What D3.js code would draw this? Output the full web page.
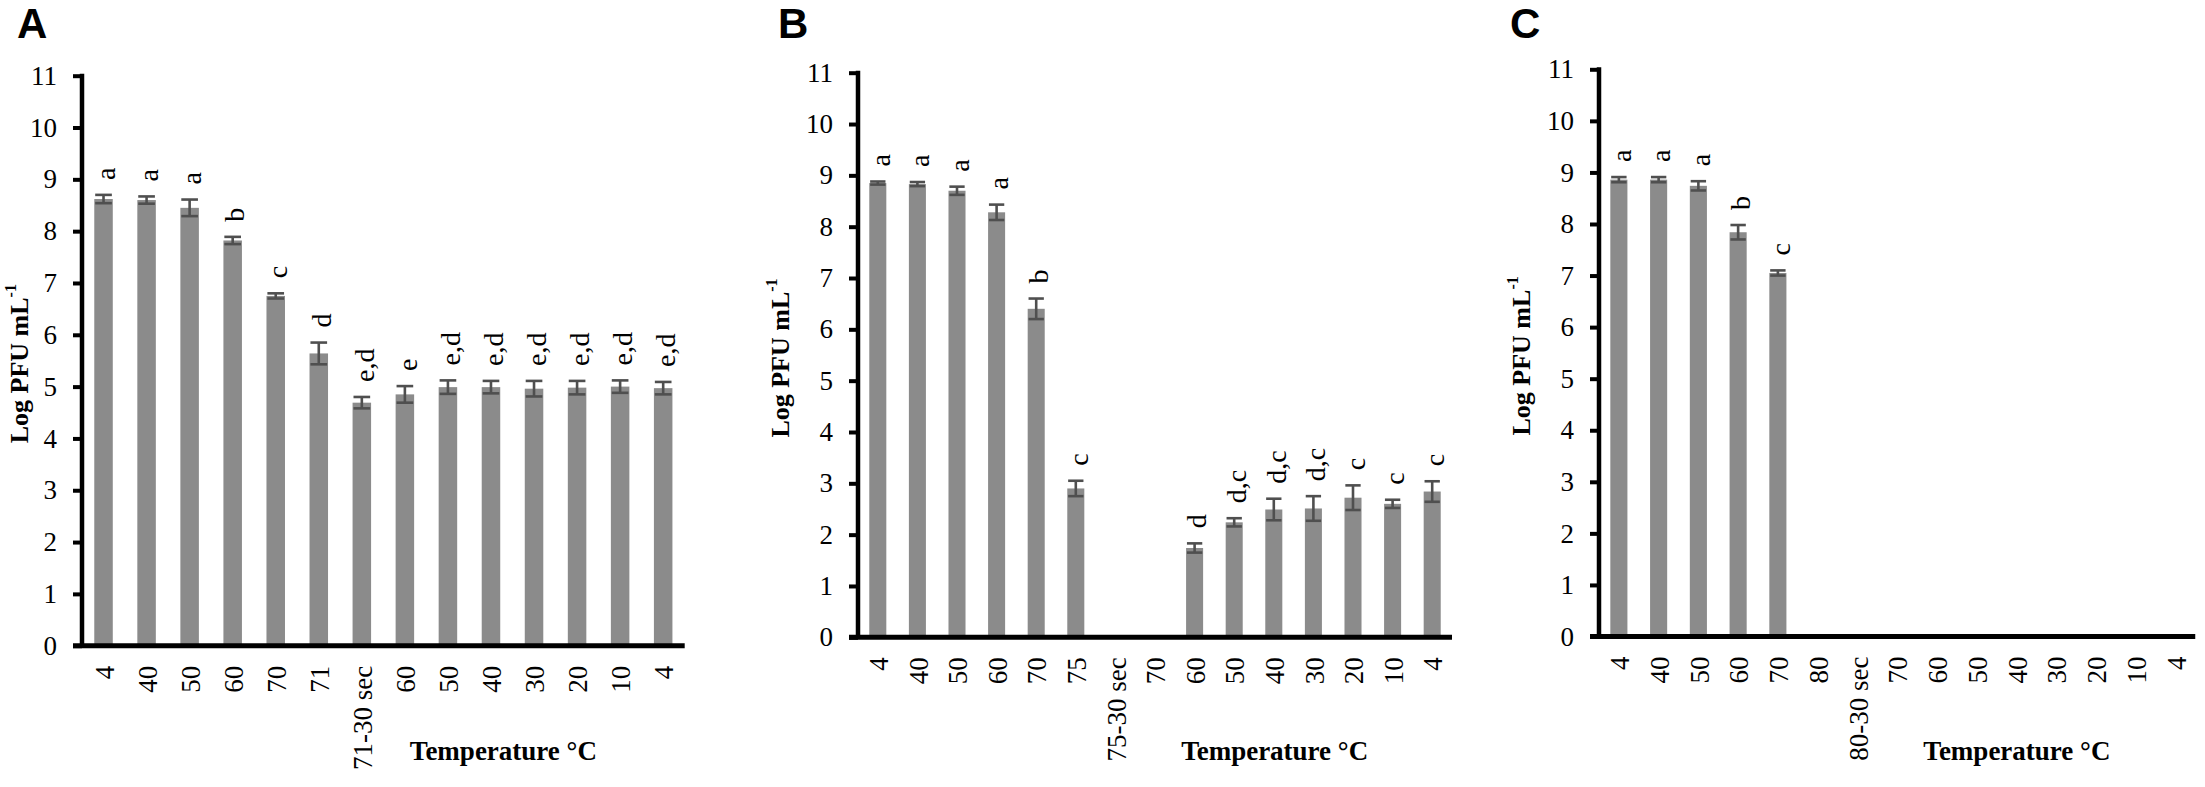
<!DOCTYPE html>
<html>
<head>
<meta charset="utf-8">
<script src="https://cdn.jsdelivr.net/npm/d3@7/dist/d3.min.js"></script>
<style>
  html, body { margin: 0; padding: 0; background: #fff; }
  svg { display: block; }
</style>
</head>
<body>
<svg id="chart" width="2205" height="787"></svg>
<script>
// ---------------- DATA ----------------
const yTicks = [0,1,2,3,4,5,6,7,8,9,10,11];

const catsA = ["4","40","50","60","70","71","71-30 sec","60","50","40","30","20","10","4"];
const valuesA = [8.62,8.60,8.45,7.82,6.75,5.64,4.69,4.85,4.99,4.99,4.96,4.98,5.00,4.97];
const errA    = [0.08,0.07,0.16,0.07,0.05,0.21,0.11,0.16,0.13,0.12,0.15,0.13,0.12,0.12];
const lettersA = ["a","a","a","b","c","d","e,d","e","e,d","e,d","e,d","e,d","e,d","e,d"];

const catsB = ["4","40","50","60","70","75","75-30 sec","70","60","50","40","30","20","10","4"];
const valuesB = [8.85,8.83,8.70,8.28,6.40,2.90,null,null,1.74,2.24,2.49,2.51,2.72,2.60,2.84];
const errB    = [0.03,0.04,0.08,0.15,0.20,0.15,null,null,0.09,0.08,0.21,0.24,0.24,0.08,0.20];
const lettersB = ["a","a","a","a","b","c","","","d","d,c","d,c","d,c","c","c","c"];

const catsC = ["4","40","50","60","70","80","80-30 sec","70","60","50","40","30","20","10","4"];
const valuesC = [8.86,8.86,8.74,7.84,7.05,null,null,null,null,null,null,null,null,null,null];
const errC    = [0.05,0.05,0.09,0.14,0.05,null,null,null,null,null,null,null,null,null,null];
const lettersC = ["a","a","a","b","c","","","","","","","","","",""];

const panelLabels = ["A","B","C"];
const yTitle = "Log PFU mL";
const xTitle = "Temperature \u00B0C";

// ---------------- LAYOUT ----------------
const panels = [
  {label: panelLabels[0], cats: catsA, vals: valuesA, errs: errA, letters: lettersA,
   axisX: 82, y0: 645.7, yTop: 75.7, step: 43.05, labelX: 17, yTitleX: 28},
  {label: panelLabels[1], cats: catsB, vals: valuesB, errs: errB, letters: lettersB,
   axisX: 858, y0: 637.3, yTop: 72.7, step: 39.6, labelX: 778, yTitleX: 789},
  {label: panelLabels[2], cats: catsC, vals: valuesC, errs: errC, letters: lettersC,
   axisX: 1599, y0: 636.5, yTop: 69.3, step: 39.75, labelX: 1510, yTitleX: 1530}
];

const serif = "'Liberation Serif', 'Times New Roman', serif";
const sans = "'Liberation Sans', Arial, sans-serif";
const barColor = "#8b8b8b";
const errColor = "#4f4f4f";

const svg = d3.select("#chart");

panels.forEach(p => {
  const g = svg.append("g");
  const n = p.cats.length;
  const idx = d3.range(n);
  const x = d3.scaleBand()
    .domain(idx)
    .range([p.axisX, p.axisX + n * p.step])
    .paddingInner(0.57)
    .paddingOuter(0.285);
  const y = d3.scaleLinear().domain([0, 11]).range([p.y0, p.yTop]);
  const cx = i => x(i) + x.bandwidth() / 2;

  // bars
  const data = idx.filter(i => p.vals[i] != null);
  g.selectAll("rect.bar").data(data).enter().append("rect")
    .attr("class", "bar")
    .attr("x", i => x(i))
    .attr("width", x.bandwidth())
    .attr("y", i => y(p.vals[i]))
    .attr("height", i => y(0) - y(p.vals[i]))
    .attr("fill", barColor);

  // error bars
  const capW = x.bandwidth() * 0.9;
  const eb = g.selectAll("g.err").data(data).enter().append("g").attr("class", "err")
    .attr("stroke", errColor).attr("stroke-width", 2.6).attr("fill", "none");
  eb.append("line")
    .attr("x1", i => cx(i)).attr("x2", i => cx(i))
    .attr("y1", i => y(p.vals[i] + p.errs[i])).attr("y2", i => y(p.vals[i] - p.errs[i]));
  eb.append("line")
    .attr("x1", i => cx(i) - capW / 2).attr("x2", i => cx(i) + capW / 2)
    .attr("y1", i => y(p.vals[i] + p.errs[i])).attr("y2", i => y(p.vals[i] + p.errs[i]));
  eb.append("line")
    .attr("x1", i => cx(i) - capW / 2).attr("x2", i => cx(i) + capW / 2)
    .attr("y1", i => y(p.vals[i] - p.errs[i])).attr("y2", i => y(p.vals[i] - p.errs[i]));

  // significance letters
  g.selectAll("text.sig").data(data.filter(i => p.letters[i])).enter().append("text")
    .attr("class", "sig")
    .attr("transform", i => `translate(${cx(i)},${y(p.vals[i] + p.errs[i]) - 15}) rotate(-90)`)
    .attr("dy", "0.42em")
    .attr("text-anchor", "start")
    .attr("font-family", serif)
    .attr("font-size", 28)
    .attr("fill", "#000")
    .text(i => p.letters[i]);

  // y axis
  const yAxis = d3.axisLeft(y).tickValues(yTicks).tickSize(9).tickPadding(16).tickFormat(d3.format("d"));
  const ya = g.append("g").attr("transform", `translate(${p.axisX},0)`).call(yAxis);
  ya.select(".domain").remove();
  ya.selectAll(".tick line").attr("stroke", "#000").attr("stroke-width", 4);
  ya.selectAll(".tick text").attr("font-family", serif).attr("font-size", 27).attr("fill", "#000");
  g.append("line")
    .attr("x1", p.axisX).attr("x2", p.axisX)
    .attr("y1", y(11) - 2).attr("y2", y(0))
    .attr("stroke", "#000").attr("stroke-width", 4.5);

  // x axis
  const xAxis = d3.axisBottom(x).tickSize(0).tickFormat(i => p.cats[i]);
  const xa = g.append("g").attr("transform", `translate(0,${p.y0})`).call(xAxis);
  xa.select(".domain").remove();
  xa.selectAll(".tick text")
    .attr("transform", "rotate(-90)")
    .attr("text-anchor", "end")
    .attr("x", -20)
    .attr("y", 0)
    .attr("dy", "0.38em")
    .attr("font-family", serif).attr("font-size", 27).attr("fill", "#000");
  g.append("line")
    .attr("x1", p.axisX - 9).attr("x2", p.axisX + n * p.step)
    .attr("y1", p.y0).attr("y2", p.y0)
    .attr("stroke", "#000").attr("stroke-width", 5);

  // y title
  const yt = g.append("text")
    .attr("transform", `translate(${p.yTitleX},${(y(0) + y(11)) / 2 + 3}) rotate(-90)`)
    .attr("text-anchor", "middle")
    .attr("font-family", serif).attr("font-weight", "bold").attr("font-size", 26)
    .attr("fill", "#000");
  yt.append("tspan").text(yTitle);
  yt.append("tspan").attr("font-size", 16).attr("dy", "-0.75em").text("-1");

  // x title
  g.append("text")
    .attr("x", p.axisX + 0.544 * n * p.step)
    .attr("y", 760)
    .attr("font-family", serif).attr("font-weight", "bold").attr("font-size", 27)
    .attr("fill", "#000")
    .text(xTitle);

  // panel letter
  g.append("text")
    .attr("x", p.labelX).attr("y", 38)
    .attr("font-family", sans).attr("font-weight", "bold").attr("font-size", 42)
    .attr("fill", "#000")
    .text(p.label);
});
</script>
</body>
</html>
